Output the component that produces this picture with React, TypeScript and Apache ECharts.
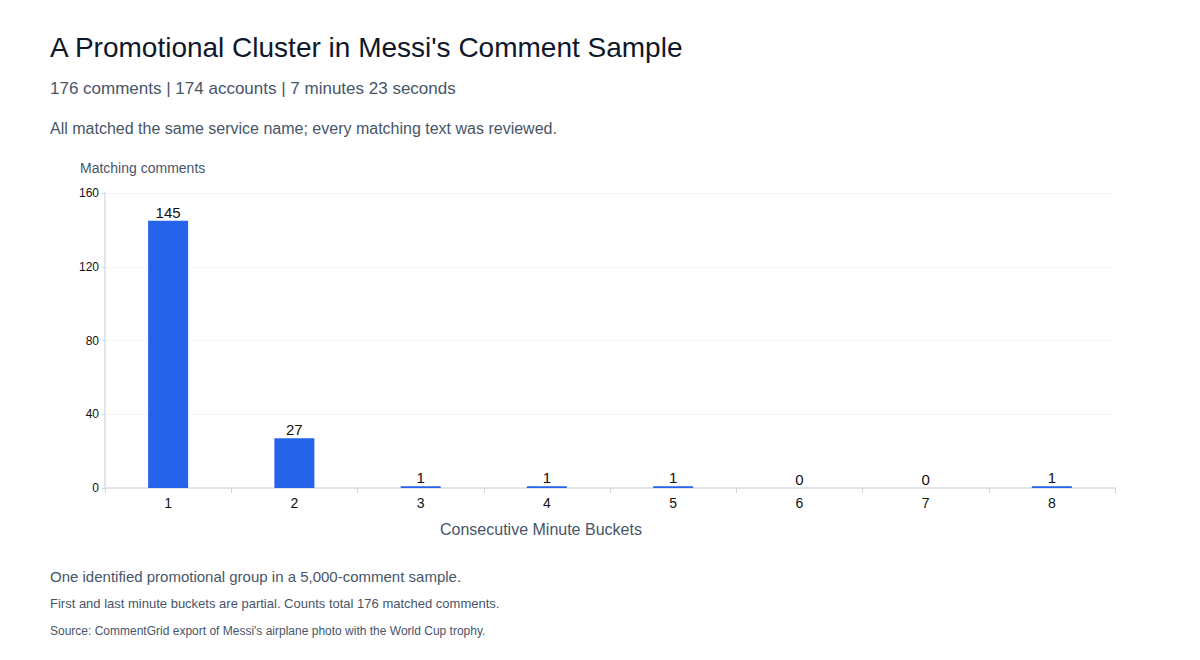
import React, { useEffect, useRef } from "react";
import * as echarts from "echarts";

const categories = ["1", "2", "3", "4", "5", "6", "7", "8"];
const counts = [145, 27, 1, 1, 1, 0, 0, 1];
const yTicks = { min: 0, max: 160, interval: 40 };

const titleText = "A Promotional Cluster in Messi's Comment Sample";
const subtitleText = "176 comments | 174 accounts | 7 minutes 23 seconds";
const noteText = "All matched the same service name; every matching text was reviewed.";
const yAxisTitle = "Matching comments";
const xAxisTitle = "Consecutive Minute Buckets";
const footer1 = "One identified promotional group in a 5,000-comment sample.";
const footer2 = "First and last minute buckets are partial. Counts total 176 matched comments.";
const footer3 = "Source: CommentGrid export of Messi's airplane photo with the World Cup trophy.";

const FONT = "'Liberation Sans', Arial, Helvetica, sans-serif";

export default function App() {
  const ref = useRef<HTMLDivElement>(null);
  useEffect(() => {
    if (!ref.current) return;
    const chart = echarts.init(ref.current, undefined, { renderer: "svg" });
    chart.setOption({
      animation: false,
      backgroundColor: "#ffffff",
      textStyle: { fontFamily: FONT },
      graphic: [
        { type: "text", left: 50, top: 33, style: { text: titleText, font: `28px ${FONT}`, fill: "#0f172a" } },
        { type: "text", left: 50, top: 80, style: { text: subtitleText, font: `17px ${FONT}`, fill: "#475569" } },
        { type: "text", left: 50, top: 120, style: { text: noteText, font: `16px ${FONT}`, fill: "#475569" } },
        { type: "text", left: 80, top: 161, style: { text: yAxisTitle, font: `14px ${FONT}`, fill: "#475569" } },
        { type: "text", left: 440, top: 521, style: { text: xAxisTitle, font: `16px ${FONT}`, fill: "#475569" } },
        { type: "text", left: 50, top: 569, style: { text: footer1, font: `15px ${FONT}`, fill: "#475569" } },
        { type: "text", left: 50, top: 597, style: { text: footer2, font: `13px ${FONT}`, fill: "#475569" } },
        { type: "text", left: 50, top: 625, style: { text: footer3, font: `12px ${FONT}`, fill: "#475569" } },
      ],
      grid: { left: 105, right: 85, top: 193, bottom: 172, containLabel: false },
      xAxis: {
        type: "category",
        data: categories,
        axisLine: { show: true, lineStyle: { color: "#e2e5ea", width: 2 } },
        axisTick: { show: true, alignWithLabel: false, length: 5, lineStyle: { color: "#d1d5db" } },
        axisLabel: { fontSize: 14, color: "#111111", margin: 8, fontFamily: FONT },
        splitLine: { show: false },
      },
      yAxis: {
        type: "value",
        min: yTicks.min,
        max: yTicks.max,
        interval: yTicks.interval,
        axisLine: { show: true, lineStyle: { color: "#e2e5ea", width: 2 } },
        axisTick: { show: true, length: 3, lineStyle: { color: "#d1d5db" } },
        axisLabel: { fontSize: 12, color: "#111111", margin: 6, fontFamily: FONT },
        splitLine: { show: true, lineStyle: { color: "#f5f6f8", width: 1 } },
      },
      series: [
        {
          type: "bar",
          data: counts,
          barWidth: 40,
          itemStyle: { color: "#2563eb" },
          label: { show: true, position: "top", fontSize: 15, color: "#111111", distance: 1, fontFamily: FONT },
        },
      ],
    });
    return () => chart.dispose();
  }, []);
  return <div ref={ref} style={{ position: "fixed", left: 0, top: 0, width: 1200, height: 660 }} />;
}
